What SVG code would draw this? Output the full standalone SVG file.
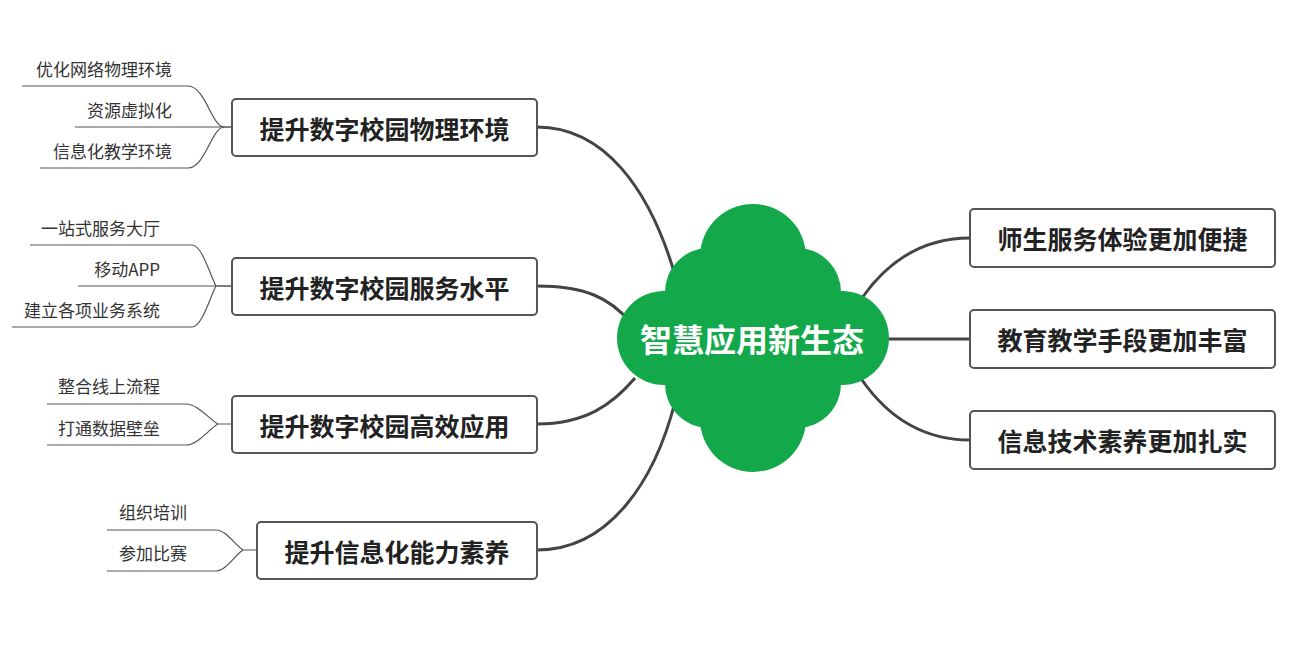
<svg xmlns="http://www.w3.org/2000/svg" width="1307" height="645" viewBox="0 0 1307 645">
<style>
.box{fill:#fff;stroke:#555;stroke-width:2}
.bt{font-family:"Noto Sans CJK SC","Noto Sans",sans-serif;font-weight:bold;font-size:25px;fill:#222;text-anchor:middle;dominant-baseline:central}
.lt{font-family:"Noto Sans CJK SC","Noto Sans",sans-serif;font-size:17px;fill:#333;text-anchor:end}
.main{stroke:#444;stroke-width:3;fill:none}
.leaf{stroke:#555;stroke-width:1.2;fill:none}
.ct{font-family:"Noto Sans CJK SC","Noto Sans",sans-serif;font-weight:bold;font-size:32px;fill:#fff;text-anchor:middle;dominant-baseline:central}
</style>
<rect width="1307" height="645" fill="#fff"/>
<g id="connectors">
<path class="main" d="M537,127 C605,127 650,190 675,275"/>
<path class="main" d="M537,286 C585,286 610,298 630,322"/>
<path class="main" d="M537,424 C585,424 612,405 635,378"/>
<path class="main" d="M537,550 C610,550 655,480 675,402"/>
<path class="main" d="M862,298 C890,258 925,238 970,238"/>
<path class="main" d="M885,339 L970,339"/>
<path class="main" d="M862,380 C890,420 925,440 970,440"/>
<path class="leaf" d="M22,86 L188,86 C205,86 212,127 224,127 L232,127"/>
<path class="leaf" d="M75,127 L232,127"/>
<path class="leaf" d="M40,168 L188,168 C205,168 212,127 224,127"/>
<path class="leaf" d="M30,245 L192,245 C202,245 210,275 216,286 L232,286"/>
<path class="leaf" d="M78,286 L232,286"/>
<path class="leaf" d="M12,327 L192,327 C202,327 210,297 216,286"/>
<path class="leaf" d="M47,404 L186,404 C198,404 210,420 218,424 L232,424"/>
<path class="leaf" d="M47,445 L186,445 C198,445 210,428 218,424"/>
<path class="leaf" d="M107,530 L216,530 C226,530 235,545 243,550 L257,550"/>
<path class="leaf" d="M107,571 L216,571 C226,571 235,555 243,550"/>
</g>
<g id="center">
<g fill="#13A94B">
<circle cx="753" cy="257" r="53"/>
<circle cx="753" cy="419" r="53"/>
<circle cx="664" cy="338" r="47"/>
<circle cx="842" cy="338" r="47"/>
<circle cx="709" cy="292" r="44"/>
<circle cx="797" cy="292" r="44"/>
<circle cx="709" cy="384" r="44"/>
<circle cx="797" cy="384" r="44"/>
<circle cx="753" cy="338" r="85"/>
</g>
<text class="ct" x="752" y="338">智慧应用新生态</text>
</g>
<g id="n1"><rect class="box" x="232" y="99" width="305" height="57" rx="4"/><text class="bt" x="384.5" y="127.5">提升数字校园物理环境</text></g>
<g id="n2"><rect class="box" x="232" y="258" width="305" height="57" rx="4"/><text class="bt" x="384.5" y="286.5">提升数字校园服务水平</text></g>
<g id="n3"><rect class="box" x="232" y="396" width="305" height="57" rx="4"/><text class="bt" x="384.5" y="424.5">提升数字校园高效应用</text></g>
<g id="n4"><rect class="box" x="257" y="522" width="280" height="57" rx="4"/><text class="bt" x="397" y="550.5">提升信息化能力素养</text></g>
<g id="r1"><rect class="box" x="970" y="209" width="305" height="58" rx="4"/><text class="bt" x="1122.5" y="238">师生服务体验更加便捷</text></g>
<g id="r2"><rect class="box" x="970" y="310" width="305" height="58" rx="4"/><text class="bt" x="1122.5" y="339">教育教学手段更加丰富</text></g>
<g id="r3"><rect class="box" x="970" y="411" width="305" height="58" rx="4"/><text class="bt" x="1122.5" y="440">信息技术素养更加扎实</text></g>
<g id="leaves">
<text class="lt" x="172" y="76">优化网络物理环境</text>
<text class="lt" x="172" y="117">资源虚拟化</text>
<text class="lt" x="172" y="158">信息化教学环境</text>
<text class="lt" x="160" y="235">一站式服务大厅</text>
<text class="lt" x="160" y="276">移动APP</text>
<text class="lt" x="160" y="317">建立各项业务系统</text>
<text class="lt" x="160" y="393">整合线上流程</text>
<text class="lt" x="160" y="435">打通数据壁垒</text>
<text class="lt" x="187" y="519">组织培训</text>
<text class="lt" x="187" y="560">参加比赛</text>
</g>
</svg>
